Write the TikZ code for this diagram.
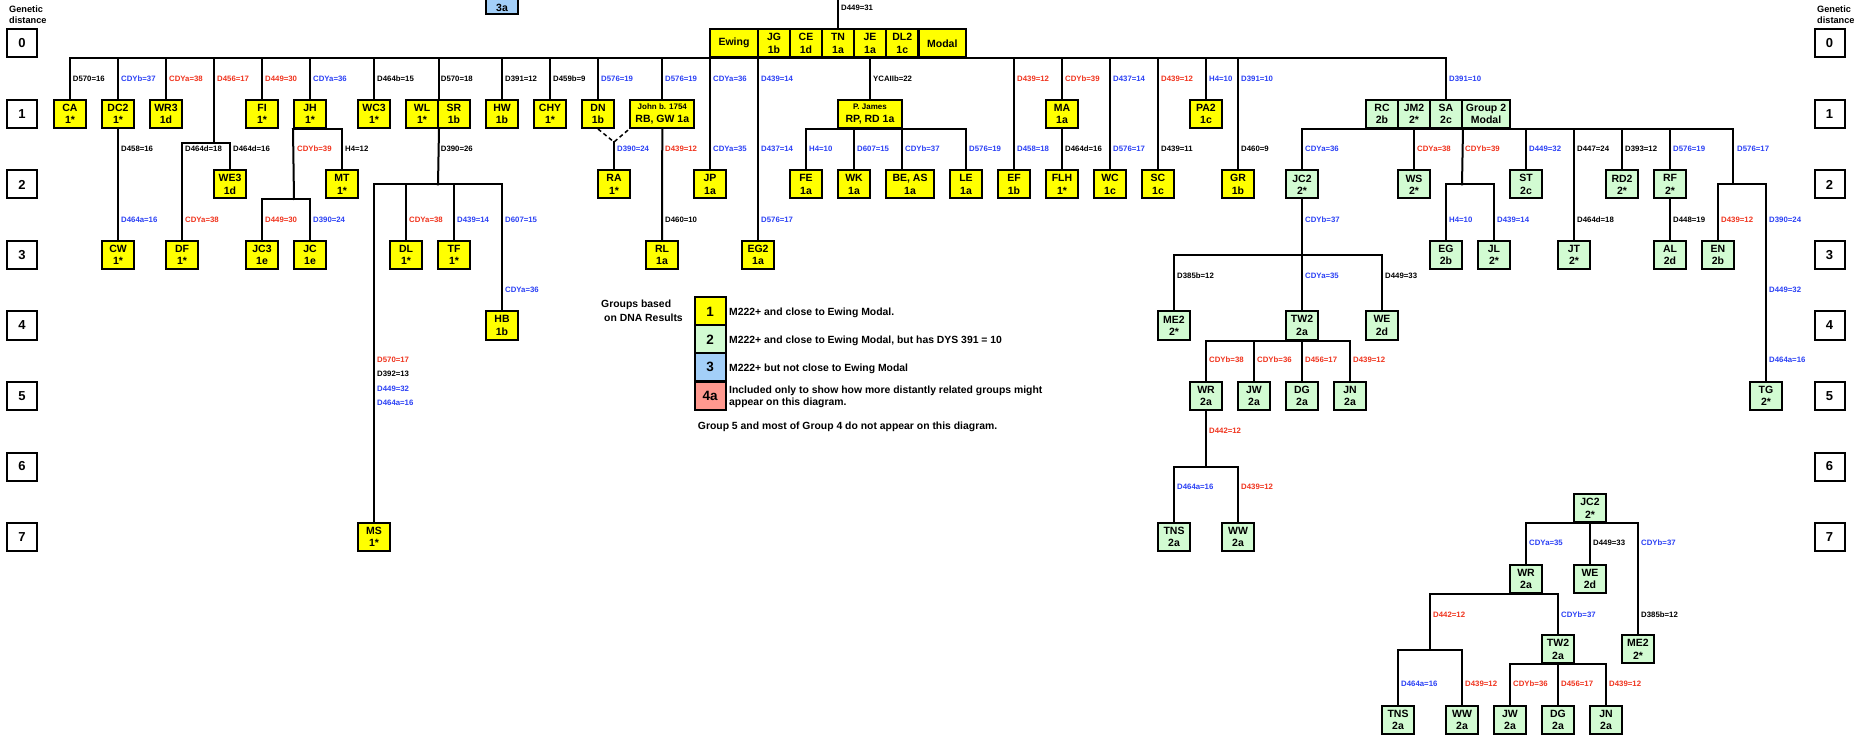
\documentclass[tikz,border=0pt]{standalone}
\usepackage{fontspec}
\setmainfont{Liberation Sans}
\definecolor{grpone}{HTML}{FFFF00}
\definecolor{grptwo}{HTML}{D2FBD2}
\definecolor{grpthree}{HTML}{A3CFF8}
\definecolor{grpfour}{HTML}{FF998F}
\definecolor{lred}{HTML}{F0341E}
\definecolor{lblue}{HTML}{2B41F5}
\begin{document}
\begin{tikzpicture}[x=1pt,y=-1pt,
  nd/.style={draw, line width=2pt, minimum width=32pt, minimum height=28pt, inner sep=0pt, align=center, font=\bfseries\fontsize{10.5}{12.3}\selectfont},
  ga/.style={nd, fill=grpone},
  gb/.style={nd, fill=grptwo},
  gc/.style={nd, fill=grpthree},
  gd/.style={draw, line width=2pt, fill=white, minimum width=30pt, minimum height=28pt, inner sep=0pt, font=\bfseries\fontsize{13}{15}\selectfont},
  lg/.style={draw, line width=2pt, minimum width=31pt, minimum height=28pt, inner sep=0pt, font=\bfseries\fontsize{13.5}{15}\selectfont},
  lbl/.style={anchor=west, inner sep=0pt, font=\bfseries\fontsize{7.8}{9}\selectfont},
  lk/.style={lbl, text=black},
  lb/.style={lbl, text=lblue},
  lr/.style={lbl, text=lred},
  ln/.style={line width=2pt, line cap=rect},
  dsh/.style={line width=1.5pt, dash pattern=on 4pt off 3pt},
  legt/.style={anchor=base west, inner sep=0pt, font=\bfseries\fontsize{10.4}{12}\selectfont},
  gdt/.style={anchor=base west, inner sep=0pt, font=\bfseries\fontsize{9.2}{11}\selectfont},
  small/.style={font=\bfseries\fontsize{8}{9}\selectfont}
]
\useasboundingbox (0,0) rectangle (1866,735);
\fill[white] (0,0) rectangle (1866,735);

% genetic distance scales
\node[gdt] (gdl1) at (9,12.7) {Genetic};
\node[gdt] (gdl2) at (9,24) {distance};
\node[gdt] (gdr1) at (1817,12.7) {Genetic};
\node[gdt] (gdr2) at (1817,24) {distance};
\foreach \k in {0,...,7} {
  \node[gd] (gl\k) at (22,43.5+70.5*\k) {\k};
  \node[gd] (gr\k) at (1829.5,43.5+70.5*\k) {\k};
}

% group 3 box cut at the top
\node[gc, anchor=south] (G3) at (502,14.7) {};
\node[font=\bfseries\fontsize{10.5}{12.3}\selectfont, inner sep=0pt] (G3t) at (502,7.5) {3a};

% Ewing modal row
\node[ga, minimum width=47.5pt] (Ewing) at (734,43.3) {Ewing};
\node[ga] (JG) at (774,43.3) {JG\\1b};
\node[ga] (CE) at (806,43.3) {CE\\1d};
\node[ga] (TN) at (838,43.3) {TN\\1a};
\node[ga] (JE) at (870,43.3) {JE\\1a};
\node[ga] (DL2) at (902.3,43.3) {DL2\\1c};
\node[ga, minimum width=47.3pt] (Modal) at (942.3,43.3) {Modal};

% level 1
\node[ga] (CA) at (70,114) {CA\\1*};
\node[ga] (DC2) at (118,114) {DC2\\1*};
\node[ga] (WR3) at (166,114) {WR3\\1d};
\node[ga] (FI) at (262,114) {FI\\1*};
\node[ga] (JH) at (310,114) {JH\\1*};
\node[ga] (WC3) at (374,114) {WC3\\1*};
\node[ga] (WL) at (422,114) {WL\\1*};
\node[ga] (SR) at (454,114) {SR\\1b};
\node[ga] (HW) at (502,114) {HW\\1b};
\node[ga] (CHY) at (550,114) {CHY\\1*};
\node[ga] (DN) at (598,114) {DN\\1b};
\node[ga, minimum width=64pt] (John) at (662.3,114) {{\fontsize{8}{9}\selectfont John b. 1754}\\RB, GW 1a};
\node[ga, minimum width=64pt] (PJ) at (870,114) {{\fontsize{8}{9}\selectfont P. James}\\RP, RD 1a};
\node[ga] (MA) at (1062,114) {MA\\1a};
\node[ga] (PA2) at (1206,114) {PA2\\1c};
\node[gb] (RC) at (1382,114) {RC\\2b};
\node[gb] (JM2) at (1414,114) {JM2\\2*};
\node[gb] (SA) at (1446,114) {SA\\2c};
\node[gb, minimum width=48pt] (G2M) at (1486,114) {Group 2\\Modal};

% level 2
\node[ga] (WE3) at (230,184.5) {WE3\\1d};
\node[ga] (MT) at (342,184.5) {MT\\1*};
\node[ga] (RA) at (614,184.5) {RA\\1*};
\node[ga] (JP) at (710,184.5) {JP\\1a};
\node[ga] (FE) at (806,184.5) {FE\\1a};
\node[ga] (WK) at (854,184.5) {WK\\1a};
\node[ga, minimum width=48pt] (BEAS) at (910,184.5) {BE, AS\\1a};
\node[ga] (LE) at (966,184.5) {LE\\1a};
\node[ga] (EF) at (1014,184.5) {EF\\1b};
\node[ga] (FLH) at (1062,184.5) {FLH\\1*};
\node[ga] (WC) at (1110,184.5) {WC\\1c};
\node[ga] (SC) at (1158,184.5) {SC\\1c};
\node[ga] (GR) at (1238,184.5) {GR\\1b};
\node[gb] (JC2) at (1302,184.5) {JC2\\2*};
\node[gb] (WS) at (1414,184.5) {WS\\2*};
\node[gb] (ST) at (1526,184.5) {ST\\2c};
\node[gb] (RD2) at (1622,184.5) {RD2\\2*};
\node[gb] (RF) at (1670,184.5) {RF\\2*};

% level 3
\node[ga] (CW) at (118,255) {CW\\1*};
\node[ga] (DF) at (182,255) {DF\\1*};
\node[ga] (JC3) at (262,255) {JC3\\1e};
\node[ga] (JC) at (310,255) {JC\\1e};
\node[ga] (DL) at (406,255) {DL\\1*};
\node[ga] (TF) at (454,255) {TF\\1*};
\node[ga] (RL) at (662,255) {RL\\1a};
\node[ga] (EG2) at (758,255) {EG2\\1a};
\node[gb] (EG) at (1446,255) {EG\\2b};
\node[gb] (JL) at (1494,255) {JL\\2*};
\node[gb] (JT) at (1574,255) {JT\\2*};
\node[gb] (AL) at (1670,255) {AL\\2d};
\node[gb] (EN) at (1718,255) {EN\\2b};

% level 4 and below
\node[ga] (HB) at (502,325.5) {HB\\1b};
\node[gb] (ME2) at (1174,325.5) {ME2\\2*};
\node[gb] (TW2) at (1302,325.5) {TW2\\2a};
\node[gb] (WE) at (1382,325.5) {WE\\2d};
\node[gb] (WR) at (1206,396) {WR\\2a};
\node[gb] (JW) at (1254,396) {JW\\2a};
\node[gb] (DG) at (1302,396) {DG\\2a};
\node[gb] (JN) at (1350,396) {JN\\2a};
\node[gb] (TG) at (1766,396) {TG\\2*};
\node[ga] (MS) at (374,537) {MS\\1*};
\node[gb] (TNS) at (1174,537) {TNS\\2a};
\node[gb] (WW) at (1238,537) {WW\\2a};

% inset tree
\node[gb] (JC2b) at (1590,508.3) {JC2\\2*};
\node[gb] (WRb) at (1526,579) {WR\\2a};
\node[gb] (WEb) at (1590,579) {WE\\2d};
\node[gb] (ME2b) at (1638,649.3) {ME2\\2*};
\node[gb] (TW2b) at (1558,649.3) {TW2\\2a};
\node[gb] (TNSb) at (1398,720) {TNS\\2a};
\node[gb] (WWb) at (1462,720) {WW\\2a};
\node[gb] (JWb) at (1510,720) {JW\\2a};
\node[gb] (DGb) at (1558,720) {DG\\2a};
\node[gb] (JNb) at (1606,720) {JN\\2a};

% junction coordinates
\coordinate (topD) at (838,0);
\coordinate (c456) at (214,142.7);
\coordinate (cJH) at (294,199);
\coordinate (cSR) at (438,184.3);
\coordinate (cRA) at (614,142);
\coordinate (cEG) at (1462,184.3);
\coordinate (cEN) at (1733.3,184.3);
\coordinate (cJC2) at (1302,255);
\coordinate (cWR) at (1206,467.3);
\coordinate (cWRb) at (1430,650);
\coordinate (bea) at ([xshift=-8pt]BEAS.north);

% connectors
\draw[ln] (topD) -- (TN.north);
\draw[ln] (CA.north |- Ewing.south) -- (SA.north |- Ewing.south);
\foreach \n in {CA,DC2,WR3,FI,JH,WC3,HW,CHY,DN,John,JP,EG2,EF,MA,WC,SC,PA2,GR,SA}
  \draw[ln] (\n.north |- Ewing.south) -- (\n.north);
\draw[ln] (WL.north east |- Ewing.south) -- (WL.north east);
\draw[ln] (c456 |- Ewing.south) -- (c456);
\draw[ln] (JE.south) -- (PJ.north);
\draw[ln] (DC2.south) -- (CW.north);
\draw[ln] (DF.north) -- (DF.north |- c456) -- (WE3.north |- c456) -- (WE3.north);
\draw[ln] (JH.south west) -- (MT.north |- JH.south) -- (MT.north);
\draw[ln] (JH.south west) -- (cJH);
\draw[ln] (JC3.north) -- (JC3.north |- cJH) -- (JC.north |- cJH) -- (JC.north);
\draw[ln] (WL.south east) -- (cSR);
\draw[ln] (MS.north |- cSR) -- (HB.north |- cSR);
\foreach \n in {MS,DL,TF,HB} \draw[ln] (\n.north |- cSR) -- (\n.north);
\draw[dsh] (DN.south) -- (cRA) -- (John.south west);
\draw[ln] (cRA) -- (RA.north);
\draw[ln] (John.south) -- (RL.north);
\draw[ln] (FE.north |- PJ.south) -- (LE.north |- PJ.south);
\foreach \n in {FE,WK,LE} \draw[ln] (\n.north |- PJ.south) -- (\n.north);
\draw[ln] (bea |- PJ.south) -- (bea);
\draw[ln] (MA.south) -- (FLH.north);
\draw[ln] (JC2.north |- SA.south) -- (cEN |- SA.south);
\foreach \n in {JC2,WS,ST,JT,RD2,RF} \draw[ln] (\n.north |- SA.south) -- (\n.north);
\draw[ln] (SA.south east) -- (cEG);
\draw[ln] (EG.north |- cEG) -- (JL.north |- cEG);
\foreach \n in {EG,JL} \draw[ln] (\n.north |- cEG) -- (\n.north);
\draw[ln] (cEN |- SA.south) -- (cEN);
\draw[ln] (EN.north |- cEN) -- (TG.north |- cEN);
\foreach \n in {EN,TG} \draw[ln] (\n.north |- cEN) -- (\n.north);
\draw[ln] (RF.south) -- (AL.north);
\draw[ln] (JC2.south) -- (cJC2);
\draw[ln] (ME2.north |- cJC2) -- (WE.north |- cJC2);
\foreach \n in {ME2,TW2,WE} \draw[ln] (\n.north |- cJC2) -- (\n.north);
\draw[ln] (WR.north |- TW2.south) -- (JN.north |- TW2.south);
\foreach \n in {WR,JW,DG,JN} \draw[ln] (\n.north |- TW2.south) -- (\n.north);
\draw[ln] (WR.south) -- (cWR);
\draw[ln] (TNS.north |- cWR) -- (WW.north |- cWR);
\foreach \n in {TNS,WW} \draw[ln] (\n.north |- cWR) -- (\n.north);
% inset connectors
\draw[ln] (WRb.north |- JC2b.south) -- (ME2b.north |- JC2b.south);
\foreach \n in {WRb,WEb,ME2b} \draw[ln] (\n.north |- JC2b.south) -- (\n.north);
\draw[ln] (cWRb |- WRb.south) -- (TW2b.north |- WRb.south);
\draw[ln] (cWRb |- WRb.south) -- (cWRb);
\draw[ln] (TW2b.north |- WRb.south) -- (TW2b.north);
\draw[ln] (TNSb.north |- cWRb) -- (WWb.north |- cWRb);
\foreach \n in {TNSb,WWb} \draw[ln] (\n.north |- cWRb) -- (\n.north);
\draw[ln] (JWb.north |- TW2b.south) -- (JNb.north |- TW2b.south);
\foreach \n in {JWb,DGb,JNb} \draw[ln] (\n.north |- TW2b.south) -- (\n.north);

% labels
\node[lk] at (841,7.5) {D449=31};
% row y=79
\node[lk] at (72.7,79) {D570=16};
\node[lb] at (121,79) {CDYb=37};
\node[lr] at (169,79) {CDYa=38};
\node[lr] at (217,79) {D456=17};
\node[lr] at (265,79) {D449=30};
\node[lb] at (313,79) {CDYa=36};
\node[lk] at (377,79) {D464b=15};
\node[lk] at (440.7,79) {D570=18};
\node[lk] at (505,79) {D391=12};
\node[lk] at (553,79) {D459b=9};
\node[lb] at (601,79) {D576=19};
\node[lb] at (665,79) {D576=19};
\node[lb] at (713,79) {CDYa=36};
\node[lb] at (761,79) {D439=14};
\node[lk] at (873,79) {YCAIIb=22};
\node[lr] at (1017,79) {D439=12};
\node[lr] at (1065,79) {CDYb=39};
\node[lb] at (1113,79) {D437=14};
\node[lr] at (1161,79) {D439=12};
\node[lb] at (1209,79) {H4=10};
\node[lb] at (1241,79) {D391=10};
\node[lb] at (1449,79) {D391=10};
% row y=149
\node[lk] at (121,149) {D458=16};
\node[lk] at (185,149) {D464d=18};
\node[lk] at (233,149) {D464d=16};
\node[lr] at (297,149) {CDYb=39};
\node[lk] at (345,149) {H4=12};
\node[lk] at (440.7,149) {D390=26};
\node[lb] at (617,149) {D390=24};
\node[lr] at (665,149) {D439=12};
\node[lb] at (713,149) {CDYa=35};
\node[lb] at (761,149) {D437=14};
\node[lb] at (809,149) {H4=10};
\node[lb] at (857,149) {D607=15};
\node[lb] at (905,149) {CDYb=37};
\node[lb] at (969,149) {D576=19};
\node[lb] at (1017,149) {D458=18};
\node[lk] at (1065,149) {D464d=16};
\node[lb] at (1113,149) {D576=17};
\node[lk] at (1161,149) {D439=11};
\node[lk] at (1241,149) {D460=9};
\node[lb] at (1305,149) {CDYa=36};
\node[lr] at (1417,149) {CDYa=38};
\node[lr] at (1465,149) {CDYb=39};
\node[lb] at (1529,149) {D449=32};
\node[lk] at (1577,149) {D447=24};
\node[lk] at (1625,149) {D393=12};
\node[lb] at (1673,149) {D576=19};
\node[lb] at (1737,149) {D576=17};
% row y=220
\node[lb] at (121,220) {D464a=16};
\node[lr] at (185,220) {CDYa=38};
\node[lr] at (265,220) {D449=30};
\node[lb] at (313,220) {D390=24};
\node[lr] at (409,220) {CDYa=38};
\node[lb] at (457,220) {D439=14};
\node[lb] at (505,220) {D607=15};
\node[lk] at (665,220) {D460=10};
\node[lb] at (761,220) {D576=17};
\node[lb] at (1305,220) {CDYb=37};
\node[lb] at (1449,220) {H4=10};
\node[lb] at (1497,220) {D439=14};
\node[lk] at (1577,220) {D464d=18};
\node[lk] at (1673,220) {D448=19};
\node[lr] at (1721,220) {D439=12};
\node[lb] at (1769,220) {D390=24};
% lower rows
\node[lk] at (1177,276) {D385b=12};
\node[lb] at (1305,276) {CDYa=35};
\node[lk] at (1385,276) {D449=33};
\node[lb] at (505,290) {CDYa=36};
\node[lb] at (1769,290) {D449=32};
\node[lr] at (1209,360) {CDYb=38};
\node[lr] at (1257,360) {CDYb=36};
\node[lr] at (1305,360) {D456=17};
\node[lr] at (1353,360) {D439=12};
\node[lb] at (1769,360) {D464a=16};
\node[lr] at (377,360) {D570=17};
\node[lk] at (377,374) {D392=13};
\node[lb] at (377,389) {D449=32};
\node[lb] at (377,403) {D464a=16};
\node[lr] at (1209,431) {D442=12};
\node[lb] at (1177,487) {D464a=16};
\node[lr] at (1241,487) {D439=12};
% inset labels
\node[lb] at (1529,542.7) {CDYa=35};
\node[lk] at (1593,542.7) {D449=33};
\node[lb] at (1641,542.7) {CDYb=37};
\node[lr] at (1433,614.3) {D442=12};
\node[lb] at (1561,614.3) {CDYb=37};
\node[lk] at (1641,614.3) {D385b=12};
\node[lb] at (1401,684) {D464a=16};
\node[lr] at (1465,684) {D439=12};
\node[lr] at (1513,684) {CDYb=36};
\node[lr] at (1561,684) {D456=17};
\node[lr] at (1609,684) {D439=12};

% legend
\node[legt] (lgh1) at (601,307.7) {Groups based};
\node[legt] (lgh2) at (604,321.7) {on DNA Results};
\node[lg, fill=grpone] (leg1) at (710,311.5) {1};
\node[lg, fill=grptwo] (leg2) at (710,339.5) {2};
\node[lg, fill=grpthree] (leg3) at (710,367.3) {3};
\node[lg, fill=grpfour] (leg4) at (710,395.5) {4a};
\node[legt] (lt1) at (729,316) {M222+ and close to Ewing Modal.};
\node[legt] (lt2) at (729,344) {M222+ and close to Ewing Modal, but has DYS 391 = 10};
\node[legt] (lt3) at (729,371.7) {M222+ but not close to Ewing Modal};
\node[legt] (lt4a) at (729,393.3) {Included only to show how more distantly related groups might};
\node[legt] (lt4b) at (729,405.7) {appear on this diagram.};
\node[legt] (lt5) at (697.7,429.3) {Group 5 and most of Group 4 do not appear on this diagram.};
\end{tikzpicture}
\end{document}
